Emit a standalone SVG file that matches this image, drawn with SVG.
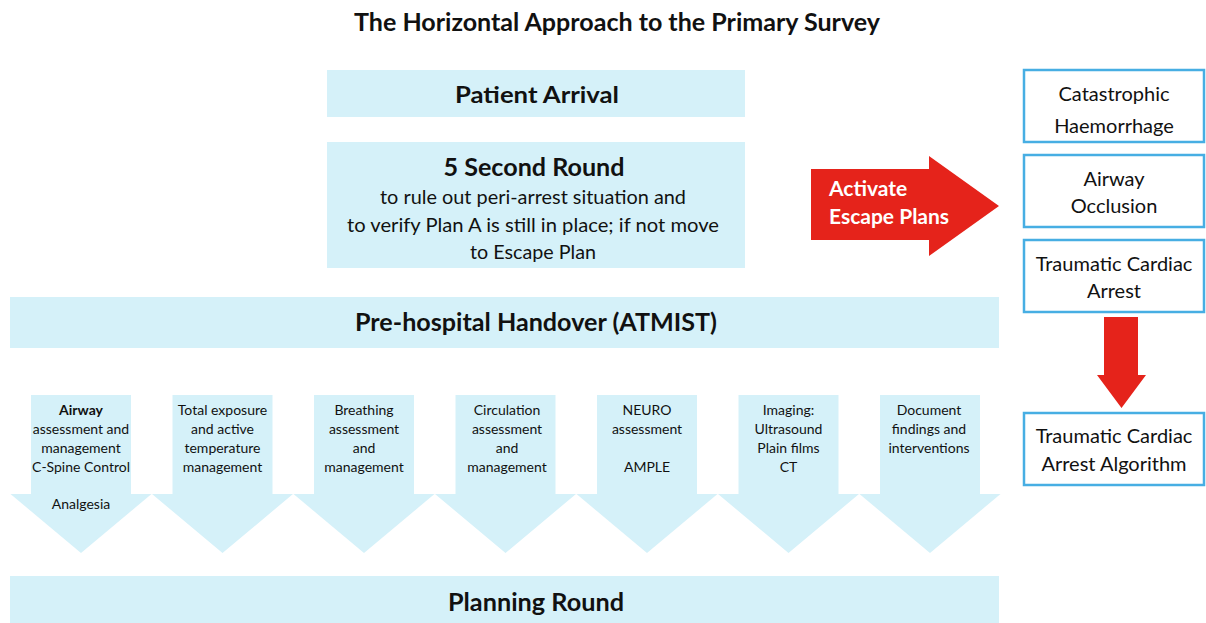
<svg xmlns="http://www.w3.org/2000/svg" width="1206" height="623" viewBox="0 0 1206 623">
<style>
.bar{fill:#d5f1f9;}
.hd{font-family:Lato,"Open Sans","Liberation Sans",sans-serif;font-weight:bold;fill:#111;text-anchor:middle;}
.bd{font-family:Lato,"Open Sans","Liberation Sans",sans-serif;fill:#111;text-anchor:middle;}
.sm{font-family:Lato,"Open Sans","Liberation Sans",sans-serif;fill:#111;text-anchor:middle;font-size:14px;}
.box{fill:#fff;stroke:#47aee3;stroke-width:2.5;}
.red{fill:#e5231b;}
.wt{font-family:Lato,"Open Sans","Liberation Sans",sans-serif;font-weight:bold;fill:#fff;font-size:21px;}
</style>
<rect width="1206" height="623" fill="#fff"/>
<text class="hd" x="617" y="31" font-size="24" textLength="526" lengthAdjust="spacingAndGlyphs">The Horizontal Approach to the Primary Survey</text>

<g id="patient-arrival">
<rect class="bar" x="327" y="70" width="418" height="47"/>
<text class="hd" x="537" y="103" font-size="23" textLength="164" lengthAdjust="spacingAndGlyphs">Patient Arrival</text>
</g>

<g id="five-second-round">
<rect class="bar" x="327" y="142" width="418" height="126"/>
<text class="hd" x="534" y="176" font-size="24" textLength="181" lengthAdjust="spacingAndGlyphs">5 Second Round</text>
<text class="bd" x="533" y="204" font-size="19" textLength="306" lengthAdjust="spacingAndGlyphs">to rule out peri-arrest situation and</text>
<text class="bd" x="533" y="232" font-size="19" textLength="372" lengthAdjust="spacingAndGlyphs">to verify Plan A is still in place; if not move</text>
<text class="bd" x="533" y="259" font-size="19" textLength="126" lengthAdjust="spacingAndGlyphs">to Escape Plan</text>
</g>

<g id="prehospital-handover">
<rect class="bar" x="10" y="297" width="989" height="51"/>
<text class="hd" x="536" y="331" font-size="24" textLength="362" lengthAdjust="spacingAndGlyphs">Pre-hospital Handover (ATMIST)</text>
</g>

<g id="step-airway">
<polygon class="bar" points="31,395 131,395 131,494 151.5,494 81,553 10.5,494 31,494"/>
<text class="sm" x="81" y="415" font-weight="bold">Airway</text>
<text class="sm" x="81" y="434">assessment and</text>
<text class="sm" x="81" y="453">management</text>
<text class="sm" x="81" y="472">C-Spine Control</text>
<text class="sm" x="81" y="509">Analgesia</text>
</g>
<g id="step-exposure">
<polygon class="bar" points="172.5,395 272.5,395 272.5,494 293,494 222.5,553 152,494 172.5,494"/>
<text class="sm" x="222.5" y="415">Total exposure</text>
<text class="sm" x="222.5" y="434">and active</text>
<text class="sm" x="222.5" y="453">temperature</text>
<text class="sm" x="222.5" y="472">management</text>
</g>
<g id="step-breathing">
<polygon class="bar" points="314,395 414,395 414,494 434.5,494 364,553 293.5,494 314,494"/>
<text class="sm" x="364" y="415">Breathing</text>
<text class="sm" x="364" y="434">assessment</text>
<text class="sm" x="364" y="453">and</text>
<text class="sm" x="364" y="472">management</text>
</g>
<g id="step-circulation">
<polygon class="bar" points="455.5,395 555.5,395 555.5,494 576,494 505.5,553 435,494 455.5,494"/>
<text class="sm" x="507" y="415">Circulation</text>
<text class="sm" x="507" y="434">assessment</text>
<text class="sm" x="507" y="453">and</text>
<text class="sm" x="507" y="472">management</text>
</g>
<g id="step-neuro">
<polygon class="bar" points="597,395 697,395 697,494 717.5,494 647,553 576.5,494 597,494"/>
<text class="sm" x="647" y="415">NEURO</text>
<text class="sm" x="647" y="434">assessment</text>
<text class="sm" x="647" y="472">AMPLE</text>
</g>
<g id="step-imaging">
<polygon class="bar" points="738.5,395 838.5,395 838.5,494 859,494 788.5,553 718,494 738.5,494"/>
<text class="sm" x="788.5" y="415">Imaging:</text>
<text class="sm" x="788.5" y="434">Ultrasound</text>
<text class="sm" x="788.5" y="453">Plain films</text>
<text class="sm" x="788.5" y="472">CT</text>
</g>
<g id="step-document">
<polygon class="bar" points="880,395 980,395 980,494 1000.5,494 930,553 859.5,494 880,494"/>
<text class="sm" x="929" y="415">Document</text>
<text class="sm" x="929" y="434">findings and</text>
<text class="sm" x="929" y="453">interventions</text>
</g>

<g id="planning-round">
<rect class="bar" x="10" y="576" width="989" height="47"/>
<text class="hd" x="536" y="611" font-size="24" textLength="176" lengthAdjust="spacingAndGlyphs">Planning Round</text>
</g>

<g id="catastrophic-haemorrhage">
<rect class="box" x="1024" y="70" width="180" height="72"/>
<text class="bd" x="1114" y="101" font-size="20">Catastrophic</text>
<text class="bd" x="1114" y="133" font-size="20">Haemorrhage</text>
</g>
<g id="airway-occlusion">
<rect class="box" x="1024" y="155" width="180" height="72"/>
<text class="bd" x="1114" y="186" font-size="20">Airway</text>
<text class="bd" x="1114" y="213" font-size="20">Occlusion</text>
</g>
<g id="traumatic-cardiac-arrest">
<rect class="box" x="1024" y="240" width="180" height="72"/>
<text class="bd" x="1114" y="271" font-size="20">Traumatic Cardiac</text>
<text class="bd" x="1114" y="298" font-size="20">Arrest</text>
</g>
<g id="tca-algorithm">
<rect class="box" x="1024" y="413" width="180" height="72"/>
<text class="bd" x="1114" y="443" font-size="20">Traumatic Cardiac</text>
<text class="bd" x="1114" y="471" font-size="20">Arrest Algorithm</text>
</g>

<g id="connectors">
<polygon class="red" points="811,169 929,169 929,156 999,206 929,256 929,240 811,240"/>
<text class="wt" x="829" y="196">Activate</text>
<text class="wt" x="829" y="224">Escape Plans</text>
<polygon class="red" points="1104,317 1138,317 1138,375 1146,375 1121.5,408 1097,375 1104,375"/>
</g>
</svg>
